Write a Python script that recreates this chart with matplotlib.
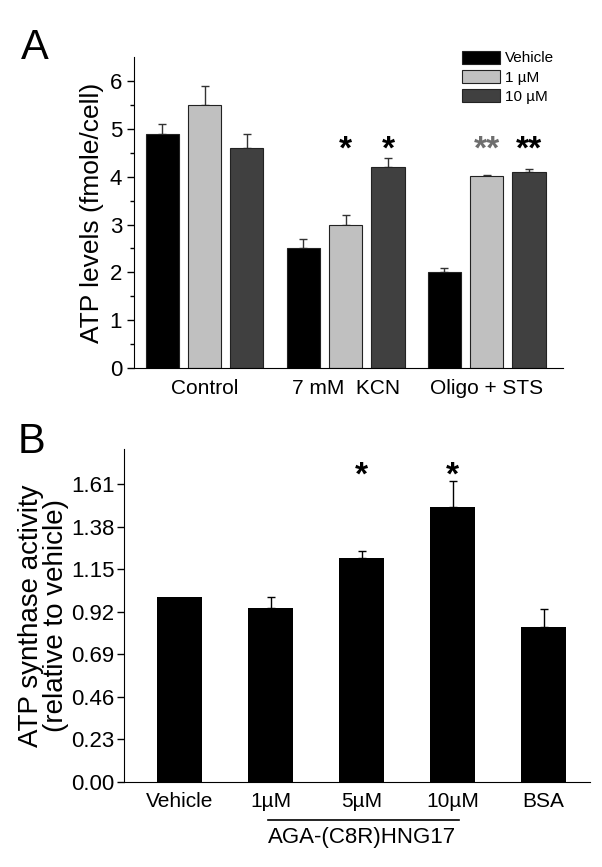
import numpy as np
import matplotlib
matplotlib.use("Agg")
import matplotlib.pyplot as plt

plt.rcParams['font.family'] = ['Liberation Sans', 'DejaVu Sans']

# panel A data
groups_a = ["Control", "7 mM  KCN", "Oligo + STS"]
series_a = ["Vehicle", "1 \u00b5M", "10 \u00b5M"]
vehicle_a = [4.9, 2.5, 2.0]
um1_a = [5.5, 3.0, 4.02]
um10_a = [4.6, 4.2, 4.1]
vehicle_err = [0.2, 0.2, 0.1]
um1_err = [0.4, 0.2, 0.02]
um10_err = [0.3, 0.2, 0.07]
colors_a = ["#000000", "#c0c0c0", "#404040"]

# panel B data
labels_b = ["Vehicle", "1\u00b5M", "5\u00b5M", "10\u00b5M", "BSA"]
values_b = [1.0, 0.943, 1.213, 1.488, 0.836]
errors_b = [np.nan, 0.06, 0.036, 0.14, 0.10]
yticks_b = [0.00, 0.23, 0.46, 0.69, 0.92, 1.15, 1.38, 1.61]

fig = plt.figure(figsize=(6.02, 8.67), dpi=100)

# ---------------- panel A ----------------
ax1 = fig.add_axes([0.2226, 0.5755, 0.935 - 0.2226, 0.934 - 0.5755])
x = np.arange(len(groups_a))
w = 0.235
offs = [-0.3, 0.0, 0.3]
vals = [vehicle_a, um1_a, um10_a]
errs = [vehicle_err, um1_err, um10_err]
for i in range(3):
    ax1.bar(x + offs[i], vals[i], w, color=colors_a[i], edgecolor="#222222",
            linewidth=0.8, label=series_a[i], zorder=2)
    ax1.errorbar(x + offs[i], vals[i], yerr=[np.zeros(3), errs[i]], fmt="none",
                 ecolor="#333333", elinewidth=1.0, capsize=3, capthick=1.0, zorder=1)

ax1.set_xlim(-0.5, 2.54)
ax1.set_ylim(0, 6.5)
ax1.set_yticks([0, 1, 2, 3, 4, 5, 6])
ax1.set_yticks(np.arange(0.5, 6.5, 1.0), minor=True)
ax1.set_xticks(x)
ax1.set_xticklabels(groups_a, fontsize=15)
ax1.tick_params(axis="x", length=0, pad=8)
ax1.tick_params(axis="y", labelsize=16, direction="out", length=5, width=1)
ax1.tick_params(axis="y", which="minor", direction="out", length=3, width=1)
for s in ["top", "right"]:
    ax1.spines[s].set_visible(False)
ax1.set_ylabel("ATP levels (fmole/cell)", fontsize=19, labelpad=4)

# significance stars
ax1.text(x[1] + offs[1], 4.55, "*", ha="center", va="center", fontsize=24, fontweight="bold")
ax1.text(x[1] + offs[2], 4.55, "*", ha="center", va="center", fontsize=24, fontweight="bold")
ax1.text(x[2] + offs[1], 4.55, "**", ha="center", va="center", fontsize=24, fontweight="bold", color="#6e6e6e")
ax1.text(x[2] + offs[2], 4.55, "**", ha="center", va="center", fontsize=24, fontweight="bold")

ax1.legend(loc="upper right", bbox_to_anchor=(1.0, 1.05), frameon=False, fontsize=11,
           handlelength=2.5, handleheight=0.9, labelspacing=0.3, handletextpad=0.3,
           borderaxespad=0.2)

fig.text(0.035, 0.945, "A", fontsize=30, va="center")

# ---------------- panel B ----------------
ax2 = fig.add_axes([0.206, 0.098, 0.980 - 0.206, 0.482 - 0.098])
xb = np.arange(len(labels_b))
ax2.bar(xb, values_b, 0.5, color="#000000", zorder=2)
ax2.errorbar(xb[1:], values_b[1:], yerr=[np.zeros(len(xb) - 1), errors_b[1:]], fmt="none",
             ecolor="#000000", elinewidth=1.0, capsize=3, capthick=1.0, zorder=1)
ax2.set_xlim(-0.61, 4.51)
ax2.set_ylim(0, 1.8)
ax2.set_yticks(yticks_b)
ax2.set_yticklabels(["%.2f" % v for v in yticks_b])
ax2.set_xticks(xb)
ax2.set_xticklabels(labels_b, fontsize=15)
ax2.tick_params(axis="x", length=0, pad=7)
ax2.tick_params(axis="y", labelsize=16, direction="out", length=5, width=1, pad=2)
for s in ["top", "right"]:
    ax2.spines[s].set_visible(False)
ax2.set_ylabel("ATP synthase activity\n(relative to vehicle)", fontsize=20,
               linespacing=0.95, labelpad=1)

ax2.text(xb[2], 1.655, "*", ha="center", va="center", fontsize=24, fontweight="bold")
ax2.text(xb[3], 1.655, "*", ha="center", va="center", fontsize=24, fontweight="bold")

# bracket line under the peptide concentrations
ax2.plot([0.97, 3.07], [-0.205, -0.205], color="black", lw=1.2, clip_on=False)
ax2.text(2.0, -0.30, "AGA-(C8R)HNG17", ha="center", va="center", fontsize=16,
         clip_on=False)

fig.text(0.03, 0.49, "B", fontsize=30, va="center")

fig.savefig("out.png", dpi=100)
